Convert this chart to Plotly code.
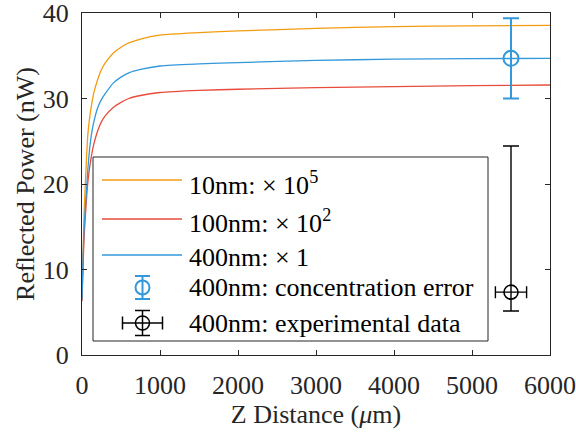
import plotly.graph_objects as go

# ---- data ----
z_um = [0, 25, 50, 75, 100, 125, 150, 200, 250, 300, 400, 500, 600, 750,
        1000, 1500, 2000, 3000, 4000, 5000, 6000]
p_10nm = [6.6, 16.0, 21.5, 25.8, 27.9, 29.4, 30.6, 32.2, 33.4, 34.2, 35.3, 36.0,
          36.5, 36.95, 37.4, 37.7, 37.9, 38.2, 38.4, 38.5, 38.55]
p_100nm = [6.3, 13.3, 17.2, 20.2, 22.1, 23.5, 24.6, 26.2, 27.3, 28.0, 28.95, 29.55,
           30.0, 30.35, 30.7, 30.95, 31.08, 31.27, 31.4, 31.5, 31.58]
p_400nm = [6.5, 14.5, 18.2, 21.7, 24.3, 26.0, 27.2, 28.9, 29.9, 30.6, 31.8, 32.5,
           33.0, 33.4, 33.8, 34.05, 34.2, 34.45, 34.6, 34.66, 34.7]

conc_x = [5500]
conc_y = [34.7]
conc_err = [4.7]

exp_x = [5500]
exp_y = [7.35]
exp_err_plus = [17.1]
exp_err_minus = [2.2]
exp_xerr = [200]

x_ticks = [0, 1000, 2000, 3000, 4000, 5000, 6000]
y_ticks = [0, 10, 20, 30, 40]

names = ["10nm: × 10<sup>5</sup>", "100nm: × 10<sup>2</sup>", "400nm: × 1",
         "400nm: concentration error", "400nm: experimental data"]

ORANGE = "#F39C12"
RED = "#E74C3C"
BLUE = "#3498DB"
AX = "#262626"
FONT = "Liberation Serif, 'Times New Roman', serif"
FS = 26

# target plot area in page pixels
L, R, T, B = 82, 550, 13, 355
W, H = 576, 434


def px(x):
    return (x - L) / (R - L)


def py(y):
    return (B - y) / (B - T)


fig = go.Figure()
for y, c, n in [(p_10nm, ORANGE, names[0]), (p_100nm, RED, names[1]), (p_400nm, BLUE, names[2])]:
    fig.add_trace(go.Scatter(x=z_um, y=y, mode="lines", name=n, showlegend=False,
                             line=dict(color=c, width=1.3, shape="spline", smoothing=0.7)))

fig.add_trace(go.Scatter(
    x=conc_x, y=conc_y, mode="markers", name=names[3], showlegend=False,
    marker=dict(symbol="circle-open", size=15, color=BLUE, line=dict(width=2, color=BLUE)),
    error_y=dict(type="data", array=conc_err, color=BLUE, thickness=2, width=8),
))
fig.add_trace(go.Scatter(
    x=exp_x, y=exp_y, mode="markers", name=names[4], showlegend=False,
    marker=dict(symbol="circle-open", size=14, color="black", line=dict(width=1.6, color="black")),
    error_y=dict(type="data", symmetric=False, array=exp_err_plus, arrayminus=exp_err_minus,
                 color="black", thickness=1.4, width=8),
    error_x=dict(type="data", array=exp_xerr, color="black", thickness=1.4, width=6),
))

axis_common = dict(showline=True, linecolor=AX, linewidth=1, mirror="ticks",
                   ticks="inside", ticklen=5, tickcolor=AX, showgrid=False, zeroline=False,
                   automargin=False, ticklabeloverflow="allow",
                   tickfont=dict(family=FONT, size=FS, color=AX))
fig.update_xaxes(range=[0, 6000], tickvals=x_ticks, ticklabelstandoff=7,
                 title=dict(text="Z Distance (<i>μ</i>m)", font=dict(family=FONT, size=FS, color=AX),
                            standoff=0),
                 **axis_common)
fig.update_yaxes(range=[0, 40], tickvals=y_ticks, ticklabelstandoff=7,
                 title=dict(text="Reflected Power (nW)", font=dict(family=FONT, size=FS, color=AX),
                            standoff=0),
                 **axis_common)

# ---- custom legend (box, sample glyphs, labels) ----
shapes = []
annotations = []
shapes.append(dict(type="rect", xref="paper", yref="paper",
                   x0=px(93), x1=px(488), y0=py(341), y1=py(157),
                   line=dict(color=AX, width=1), fillcolor="white", layer="above"))
row_y = [180, 219, 255, 287.5, 323]
text_y = [183, 221, 257, 287.5, 323.5]
line_cols = [ORANGE, RED, BLUE]
for i in range(3):
    shapes.append(dict(type="line", xref="paper", yref="paper",
                       x0=px(102), x1=px(182), y0=py(row_y[i]), y1=py(row_y[i]),
                       line=dict(color=line_cols[i], width=1.3), layer="above"))
gx = 142.5
# concentration-error glyph
cy = row_y[3]
shapes += [
    dict(type="line", xref="paper", yref="paper", x0=px(gx), x1=px(gx), y0=py(cy - 11.5), y1=py(cy + 11.5),
         line=dict(color=BLUE, width=2), layer="above"),
    dict(type="line", xref="paper", yref="paper", x0=px(gx - 7.5), x1=px(gx + 7.5), y0=py(cy - 11.5), y1=py(cy - 11.5),
         line=dict(color=BLUE, width=2), layer="above"),
    dict(type="line", xref="paper", yref="paper", x0=px(gx - 7.5), x1=px(gx + 7.5), y0=py(cy + 11.5), y1=py(cy + 11.5),
         line=dict(color=BLUE, width=2), layer="above"),
    dict(type="circle", xref="paper", yref="paper", xsizemode="pixel", ysizemode="pixel",
         xanchor=px(gx), yanchor=py(cy), x0=-7, x1=7, y0=-7, y1=7,
         line=dict(color=BLUE, width=2), layer="above"),
]
# experimental-data glyph
ey = row_y[4]
shapes += [
    dict(type="line", xref="paper", yref="paper", x0=px(gx), x1=px(gx), y0=py(ey - 12.5), y1=py(ey + 12.5),
         line=dict(color="black", width=1.5), layer="above"),
    dict(type="line", xref="paper", yref="paper", x0=px(gx - 7.5), x1=px(gx + 7.5), y0=py(ey - 12.5), y1=py(ey - 12.5),
         line=dict(color="black", width=1.5), layer="above"),
    dict(type="line", xref="paper", yref="paper", x0=px(gx - 7.5), x1=px(gx + 7.5), y0=py(ey + 12.5), y1=py(ey + 12.5),
         line=dict(color="black", width=1.5), layer="above"),
    dict(type="line", xref="paper", yref="paper", x0=px(gx - 20), x1=px(gx + 20), y0=py(ey), y1=py(ey),
         line=dict(color="black", width=1.5), layer="above"),
    dict(type="line", xref="paper", yref="paper", x0=px(gx - 20), x1=px(gx - 20), y0=py(ey - 6.5), y1=py(ey + 6.5),
         line=dict(color="black", width=1.5), layer="above"),
    dict(type="line", xref="paper", yref="paper", x0=px(gx + 20), x1=px(gx + 20), y0=py(ey - 6.5), y1=py(ey + 6.5),
         line=dict(color="black", width=1.5), layer="above"),
    dict(type="circle", xref="paper", yref="paper", xsizemode="pixel", ysizemode="pixel",
         xanchor=px(gx), yanchor=py(ey), x0=-7, x1=7, y0=-7, y1=7,
         line=dict(color="black", width=1.5), layer="above"),
]
for i, n in enumerate(names):
    annotations.append(dict(text=n, xref="paper", yref="paper", x=px(187), y=py(text_y[i]),
                            xanchor="left", yanchor="middle", showarrow=False,
                            font=dict(family=FONT, size=FS, color="black")))

fig.update_layout(
    width=W, height=H,
    margin=dict(l=L, r=W - R, t=T, b=H - B),
    paper_bgcolor="white", plot_bgcolor="white",
    font=dict(family=FONT, size=FS, color="black"),
    showlegend=False,
    shapes=shapes,
    annotations=annotations,
)

# remove the browser's default 8px page margin so the figure sits at the window's corner
fig.write_html("out.html", config={"displayModeBar": False},
               post_script="document.body.style.margin='0px';")
